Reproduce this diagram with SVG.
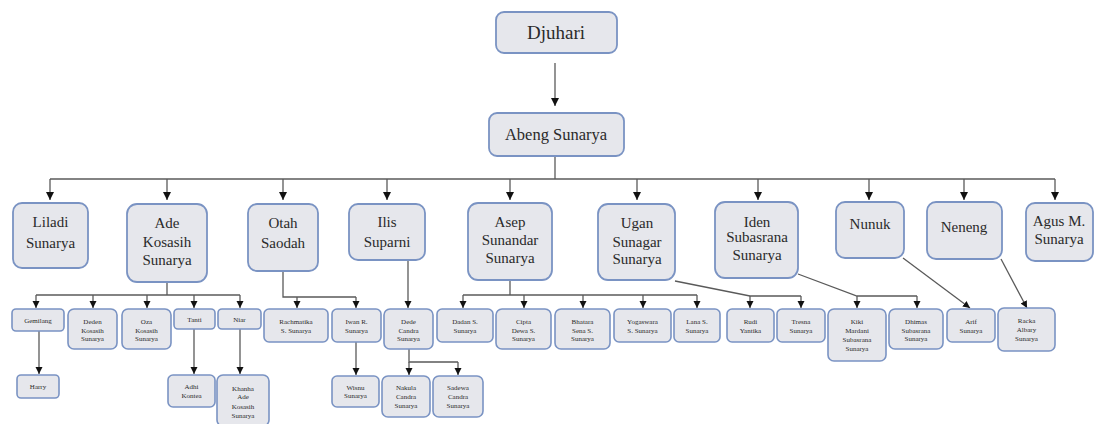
<svg xmlns="http://www.w3.org/2000/svg" width="1096" height="424" viewBox="0 0 1096 424">
<style>
.big{fill:#e6e7ec;stroke:#7a93c3;stroke-width:1.8}
.sm{fill:#e6e7ec;stroke:#7a93c3;stroke-width:1.6}
text{font-family:'Liberation Serif','Times New Roman',serif;fill:#2a2a2a;text-anchor:middle}
.t19{font-size:19px}
.t16{font-size:16.5px}
.t15{font-size:15px}
.t7{font-size:7px}
.c{stroke:#5a5a5a;stroke-width:1.3;fill:none}
.a{marker-end:url(#ah)}
.as{marker-end:url(#ahs)}
</style>
<defs>
<marker id="ah" markerUnits="userSpaceOnUse" markerWidth="9" markerHeight="9" refX="8" refY="4" orient="auto"><path d="M0,0 L8,4 L0,8 z" fill="#111"/></marker>
<marker id="ahs" markerUnits="userSpaceOnUse" markerWidth="9" markerHeight="9" refX="7" refY="3.5" orient="auto"><path d="M0,0 L7,3.5 L0,7 z" fill="#111"/></marker>
</defs>
<rect width="1096" height="424" fill="#fff"/>
<g id="connectors">
<line class="c a" x1="555" y1="63" x2="555" y2="106"/>
<polyline class="c" points="555,156 555,179"/>
<line class="c" x1="50" y1="179" x2="1055" y2="179"/>
<line class="c a" x1="50" y1="179" x2="50" y2="200"/>
<line class="c a" x1="167" y1="179" x2="167" y2="200"/>
<line class="c a" x1="283" y1="179" x2="283" y2="200"/>
<line class="c a" x1="387" y1="179" x2="387" y2="200"/>
<line class="c a" x1="510" y1="179" x2="510" y2="200"/>
<line class="c a" x1="637" y1="179" x2="637" y2="200"/>
<line class="c a" x1="758" y1="179" x2="758" y2="200"/>
<line class="c a" x1="869" y1="179" x2="869" y2="200"/>
<line class="c a" x1="964" y1="179" x2="964" y2="200"/>
<line class="c a" x1="1055" y1="179" x2="1055" y2="200"/>
<polyline class="c" points="167,282 167,295"/>
<line class="c" x1="36" y1="295" x2="240" y2="295"/>
<line class="c as" x1="36" y1="295" x2="36" y2="308"/>
<line class="c as" x1="93" y1="295" x2="93" y2="308"/>
<line class="c as" x1="147" y1="295" x2="147" y2="308"/>
<line class="c as" x1="194" y1="295" x2="194" y2="308"/>
<line class="c as" x1="240" y1="295" x2="240" y2="308"/>
<line class="c as" x1="39" y1="331" x2="39" y2="374"/>
<line class="c as" x1="194" y1="329" x2="194" y2="374"/>
<line class="c as" x1="240" y1="329" x2="240" y2="374"/>
<polyline class="c" points="283,271 283,297 356,297"/>
<line class="c as" x1="297" y1="297" x2="297" y2="308"/>
<line class="c as" x1="356" y1="297" x2="356" y2="308"/>
<line class="c as" x1="356" y1="342" x2="356" y2="375"/>
<line class="c as" x1="408" y1="260" x2="408" y2="308"/>
<polyline class="c" points="409,349 409,362 458,362"/>
<line class="c as" x1="409" y1="362" x2="409" y2="375"/>
<line class="c as" x1="458" y1="362" x2="458" y2="375"/>
<polyline class="c" points="510,280 510,295"/>
<line class="c" x1="463" y1="295" x2="697" y2="295"/>
<line class="c as" x1="463" y1="295" x2="463" y2="308"/>
<line class="c as" x1="524" y1="295" x2="524" y2="308"/>
<line class="c as" x1="583" y1="295" x2="583" y2="308"/>
<line class="c as" x1="643" y1="295" x2="643" y2="308"/>
<line class="c as" x1="697" y1="295" x2="697" y2="308"/>
<polyline class="c" points="675,281 750,296 801,296"/>
<line class="c as" x1="750" y1="296" x2="750" y2="308"/>
<line class="c as" x1="801" y1="296" x2="801" y2="308"/>
<polyline class="c" points="798,274 857,296 917,296"/>
<line class="c as" x1="857" y1="296" x2="857" y2="308"/>
<line class="c as" x1="917" y1="296" x2="917" y2="308"/>
<line class="c as" x1="903" y1="258" x2="970" y2="308"/>
<line class="c as" x1="1001" y1="259" x2="1027" y2="308"/>
</g>
<g id="djuhari"><rect class="big" x="496" y="12" width="121" height="41" rx="8"/><text class="t19" x="556" y="39">Djuhari</text></g>
<g id="abeng"><rect class="big" x="489" y="113" width="135" height="43" rx="8"/><text class="t16" x="556" y="140">Abeng Sunarya</text></g>
<g id="liladi"><rect class="big" x="13" y="203" width="75" height="65" rx="9"/><text class="t15" x="50.5" y="227">Liladi<tspan x="50.5" y="248">Sunarya</tspan></text></g>
<g id="ade"><rect class="big" x="127" y="204" width="80" height="78" rx="10"/><text class="t15" x="167" y="228">Ade<tspan x="167" y="247">Kosasih</tspan><tspan x="167" y="265">Sunarya</tspan></text></g>
<g id="otah"><rect class="big" x="248" y="204" width="70" height="67" rx="9"/><text class="t15" x="283" y="228">Otah<tspan x="283" y="248">Saodah</tspan></text></g>
<g id="ilis"><rect class="big" x="349" y="204" width="76" height="56" rx="9"/><text class="t15" x="387" y="227">Ilis<tspan x="387" y="247">Suparni</tspan></text></g>
<g id="asep"><rect class="big" x="468" y="203" width="84" height="77" rx="10"/><text class="t15" x="510" y="227">Asep<tspan x="510" y="245">Sunandar</tspan><tspan x="510" y="263">Sunarya</tspan></text></g>
<g id="ugan"><rect class="big" x="598" y="204" width="77" height="76" rx="10"/><text class="t15" x="637" y="228">Ugan<tspan x="637" y="247">Sunagar</tspan><tspan x="637" y="264">Sunarya</tspan></text></g>
<g id="iden"><rect class="big" x="715" y="202" width="83" height="76" rx="10"/><text class="t15" x="757" y="227">Iden<tspan x="757" y="242">Subasrana</tspan><tspan x="757" y="260">Sunarya</tspan></text></g>
<g id="nunuk"><rect class="big" x="836" y="202" width="68" height="56" rx="9"/><text class="t15" x="870" y="229">Nunuk</text></g>
<g id="neneng"><rect class="big" x="927" y="202" width="75" height="57" rx="9"/><text class="t15" x="964" y="232">Neneng</text></g>
<g id="agus"><rect class="big" x="1026" y="203" width="67" height="58" rx="9"/><text class="t15" x="1059" y="226">Agus M.<tspan x="1059" y="244">Sunarya</tspan></text></g>
<g id="gemilang"><rect class="sm" x="12" y="309" width="52" height="22" rx="4"/><text class="t7" x="38" y="322.5">Gemilang</text></g>
<g id="deden"><rect class="sm" x="68" y="309" width="49" height="40" rx="6"/><text class="t7" x="92.5" y="324">Deden<tspan x="92.5" y="332.5">Kosasih</tspan><tspan x="92.5" y="341">Sunarya</tspan></text></g>
<g id="oza"><rect class="sm" x="122" y="309" width="49" height="40" rx="6"/><text class="t7" x="146.5" y="324">Oza<tspan x="146.5" y="332.5">Kosasih</tspan><tspan x="146.5" y="341">Sunarya</tspan></text></g>
<g id="tanti"><rect class="sm" x="174" y="309" width="41" height="20" rx="4"/><text class="t7" x="194.5" y="321.5">Tanti</text></g>
<g id="niar"><rect class="sm" x="218" y="309" width="43" height="20" rx="4"/><text class="t7" x="239.5" y="321.5">Niar</text></g>
<g id="harry"><rect class="sm" x="17" y="375" width="42" height="23" rx="4"/><text class="t7" x="38" y="389">Harry</text></g>
<g id="adhi"><rect class="sm" x="168" y="375" width="47" height="32" rx="5"/><text class="t7" x="191.5" y="389">Adhi<tspan x="191.5" y="398">Kontea</tspan></text></g>
<g id="khanha"><rect class="sm" x="217" y="375" width="52" height="51" rx="6"/><text class="t7" x="243" y="390.5">Khanha<tspan x="243" y="399">Ade</tspan><tspan x="243" y="408.5">Kosasih</tspan><tspan x="243" y="417.5">Sunarya</tspan></text></g>
<g id="rachmatika"><rect class="sm" x="264" y="309" width="64" height="33" rx="5"/><text class="t7" x="296" y="324">Rachmatika<tspan x="296" y="332.5">S. Sunarya</tspan></text></g>
<g id="iwan"><rect class="sm" x="332" y="309" width="49" height="33" rx="5"/><text class="t7" x="356.5" y="324">Iwan R.<tspan x="356.5" y="332.5">Sunarya</tspan></text></g>
<g id="wisnu"><rect class="sm" x="332" y="376" width="47" height="31" rx="5"/><text class="t7" x="355.5" y="389.5">Wisnu<tspan x="355.5" y="398">Sunarya</tspan></text></g>
<g id="dede"><rect class="sm" x="384" y="309" width="49" height="40" rx="6"/><text class="t7" x="408.5" y="324">Dede<tspan x="408.5" y="332.5">Candra</tspan><tspan x="408.5" y="341">Sunarya</tspan></text></g>
<g id="nakula"><rect class="sm" x="382" y="376" width="48" height="41" rx="6"/><text class="t7" x="406" y="390">Nakula<tspan x="406" y="399">Candra</tspan><tspan x="406" y="408">Sunarya</tspan></text></g>
<g id="sadewa"><rect class="sm" x="433" y="376" width="50" height="41" rx="6"/><text class="t7" x="458" y="390">Sadewa<tspan x="458" y="399">Candra</tspan><tspan x="458" y="408">Sunarya</tspan></text></g>
<g id="dadan"><rect class="sm" x="437" y="309" width="56" height="33" rx="5"/><text class="t7" x="465" y="324">Dadan S.<tspan x="465" y="332.5">Sunarya</tspan></text></g>
<g id="cipta"><rect class="sm" x="496" y="309" width="55" height="40" rx="6"/><text class="t7" x="523.5" y="324">Cipta<tspan x="523.5" y="332.5">Dewa S.</tspan><tspan x="523.5" y="341">Sunarya</tspan></text></g>
<g id="bhatara"><rect class="sm" x="555" y="309" width="55" height="40" rx="6"/><text class="t7" x="582.5" y="324">Bhatara<tspan x="582.5" y="332.5">Sena S.</tspan><tspan x="582.5" y="341">Sunarya</tspan></text></g>
<g id="yogaswara"><rect class="sm" x="614" y="309" width="57" height="33" rx="5"/><text class="t7" x="642.5" y="324">Yogaswara<tspan x="642.5" y="332.5">S. Sunarya</tspan></text></g>
<g id="lana"><rect class="sm" x="674" y="309" width="46" height="33" rx="5"/><text class="t7" x="697" y="324">Lana S.<tspan x="697" y="332.5">Sunarya</tspan></text></g>
<g id="rudi"><rect class="sm" x="727" y="309" width="47" height="33" rx="5"/><text class="t7" x="750.5" y="324">Rudi<tspan x="750.5" y="332.5">Yantika</tspan></text></g>
<g id="tresna"><rect class="sm" x="777" y="309" width="48" height="33" rx="5"/><text class="t7" x="801" y="324">Tresna<tspan x="801" y="332.5">Sunarya</tspan></text></g>
<g id="kiki"><rect class="sm" x="828" y="309" width="58" height="52" rx="6"/><text class="t7" x="857" y="324">Kiki<tspan x="857" y="333">Mardani</tspan><tspan x="857" y="342">Subasrana</tspan><tspan x="857" y="350.5">Sunarya</tspan></text></g>
<g id="dhimas"><rect class="sm" x="889" y="309" width="54" height="40" rx="6"/><text class="t7" x="916" y="324">Dhimas<tspan x="916" y="332.5">Subasrana</tspan><tspan x="916" y="341">Sunarya</tspan></text></g>
<g id="arif"><rect class="sm" x="947" y="309" width="48" height="33" rx="5"/><text class="t7" x="971" y="324">Arif<tspan x="971" y="332.5">Sunarya</tspan></text></g>
<g id="racka"><rect class="sm" x="998" y="308" width="57" height="43" rx="6"/><text class="t7" x="1026.5" y="323">Racka<tspan x="1026.5" y="332">Albary</tspan><tspan x="1026.5" y="341">Sunarya</tspan></text></g>
</svg>
